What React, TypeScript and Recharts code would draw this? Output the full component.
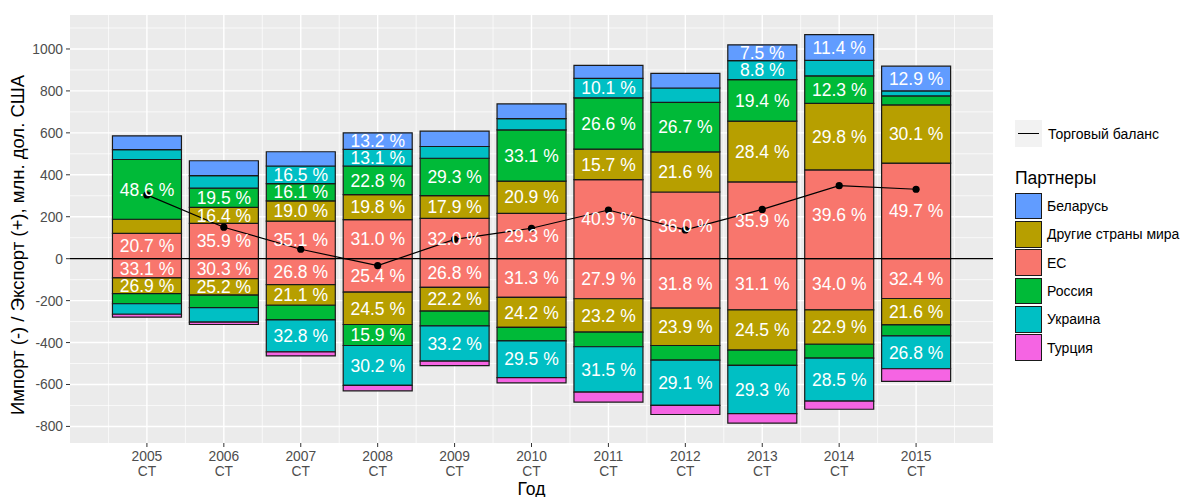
import React from "react";
import {
  ComposedChart,
  Bar,
  Line,
  XAxis,
  YAxis,
  CartesianGrid,
  ReferenceLine,
  LabelList,
} from "recharts";

const FONT = '"Liberation Sans", Arial, Helvetica, sans-serif';

// years (x axis), every one labelled "<year> / CT"
const years = [2005, 2006, 2007, 2008, 2009, 2010, 2011, 2012, 2013, 2014, 2015];

// exports (+), mln USD
const euExp = [121, 168, 179, 186, 192, 216, 377, 318, 366, 423, 456];
const otherExp = [67, 77, 97, 119, 109, 154, 145, 191, 290, 318, 277];
const russiaExp = [285, 91, 82, 137, 178, 244, 245, 236, 198, 131, 43];
const ukraineExp = [47, 60, 84, 79, 56, 54, 93, 69, 90, 74, 24];
const belarusExp = [66, 71, 68, 79, 73, 70, 62, 70, 76, 122, 118];

// imports (-), mln USD
const euImp = [-92, -95, -124, -160, -137, -185, -191, -236, -244, -244, -190];
const otherImp = [-75, -79, -98, -154, -113, -143, -159, -178, -192, -164, -126];
const russiaImp = [-48, -59, -70, -100, -70, -64, -70, -70, -73, -66, -52];
const ukraineImp = [-50, -70, -152, -190, -169, -175, -216, -216, -230, -205, -157];
const turkeyImp = [-14, -11, -20, -26, -21, -25, -48, -43, -45, -39, -60];

// trade balance
const balance = [304, 150, 45, -33, 92, 145, 232, 137, 235, 348, 331];

// shares printed inside the segments (% of the year's exports / imports)
const euExpShare = [20.7, 35.9, 35.1, 31.0, 32.0, 29.3, 40.9, 36.0, 35.9, 39.6, 49.7];
const otherExpShare = [null, 16.4, 19.0, 19.8, 17.9, 20.9, 15.7, 21.6, 28.4, 29.8, 30.1];
const russiaExpShare = [48.6, 19.5, 16.1, 22.8, 29.3, 33.1, 26.6, 26.7, 19.4, 12.3, null];
const ukraineExpShare = [null, null, 16.5, 13.1, null, null, 10.1, null, 8.8, null, null];
const belarusExpShare = [null, null, null, 13.2, null, null, null, null, 7.5, 11.4, 12.9];
const euImpShare = [33.1, 30.3, 26.8, 25.4, 26.8, 31.3, 27.9, 31.8, 31.1, 34.0, 32.4];
const otherImpShare = [26.9, 25.2, 21.1, 24.5, 22.2, 24.2, 23.2, 23.9, 24.5, 22.9, 21.6];
const russiaImpShare = [null, null, null, 15.9, null, null, null, null, null, null, null];
const ukraineImpShare = [null, null, 32.8, 30.2, 33.2, 29.5, 31.5, 29.1, 29.3, 28.5, 26.8];
const turkeyImpShare = [null, null, null, null, null, null, null, null, null, null, null];

const yTicks = [-800, -600, -400, -200, 0, 200, 400, 600, 800, 1000];
const yMinor = [-700, -500, -300, -100, 100, 300, 500, 700, 900, 1100];
const xMinor = [2004.5, 2005.5, 2006.5, 2007.5, 2008.5, 2009.5, 2010.5, 2011.5, 2012.5, 2013.5, 2014.5, 2015.5];

const COLORS = {
  belarus: "#619CFF",
  other: "#B79F00",
  eu: "#F8766D",
  russia: "#00BA38",
  ukraine: "#00BFC4",
  turkey: "#F564E3",
};

const partners = [
  { name: "Беларусь", color: COLORS.belarus },
  { name: "Другие страны мира", color: COLORS.other },
  { name: "ЕС", color: COLORS.eu },
  { name: "Россия", color: COLORS.russia },
  { name: "Украина", color: COLORS.ukraine },
  { name: "Турция", color: COLORS.turkey },
];

// stacking order: first one sits next to zero
const series = [
  { key: "euExp", color: COLORS.eu, values: euExp, shares: euExpShare },
  { key: "euImp", color: COLORS.eu, values: euImp, shares: euImpShare },
  { key: "otherExp", color: COLORS.other, values: otherExp, shares: otherExpShare },
  { key: "otherImp", color: COLORS.other, values: otherImp, shares: otherImpShare },
  { key: "russiaExp", color: COLORS.russia, values: russiaExp, shares: russiaExpShare },
  { key: "russiaImp", color: COLORS.russia, values: russiaImp, shares: russiaImpShare },
  { key: "ukraineExp", color: COLORS.ukraine, values: ukraineExp, shares: ukraineExpShare },
  { key: "ukraineImp", color: COLORS.ukraine, values: ukraineImp, shares: ukraineImpShare },
  { key: "belarusExp", color: COLORS.belarus, values: belarusExp, shares: belarusExpShare },
  { key: "turkeyImp", color: COLORS.turkey, values: turkeyImp, shares: turkeyImpShare },
];

const data = years.map((year, i) => {
  const row: Record<string, any> = { year, balance: balance[i] };
  series.forEach((s) => {
    row[s.key] = s.values[i];
    const share = s.shares[i];
    row[s.key + "Lbl"] = share == null ? null : `${share.toFixed(1)} %`;
  });
  return row;
});

const YearTick = ({ x, y, payload }: any) => (
  <text x={x} y={y} textAnchor="middle" fill="#4D4D4D" fontSize={13.8} fontFamily={FONT}>
    <tspan x={x} dy={12}>{payload.value}</tspan>
    <tspan x={x} dy={14.5}>CT</tspan>
  </text>
);

const ValueTick = ({ x, y, payload }: any) => (
  <text x={x} y={y} dy={5} textAnchor="end" fill="#4D4D4D" fontSize={13.8} fontFamily={FONT}>
    {payload.value}
  </text>
);

function Legend() {
  return (
    <div style={{ position: "absolute", left: 1015, top: 120, fontFamily: FONT, color: "#000" }}>
      <div style={{ display: "flex", alignItems: "center", height: 27 }}>
        <div style={{ width: 27, height: 27, background: "#F2F2F2", position: "relative" }}>
          <div style={{ position: "absolute", left: 3, right: 3, top: 13, height: 1.4, background: "#000" }} />
        </div>
        <span style={{ marginLeft: 6, fontSize: 14 }}>Торговый баланс</span>
      </div>
      <div style={{ fontSize: 17.5, marginTop: 21, lineHeight: "20px" }}>Партнеры</div>
      <div style={{ marginTop: 4 }}>
        {partners.map((p) => (
          <div key={p.name} style={{ display: "flex", alignItems: "center", height: 28.3 }}>
            <div
              style={{
                width: 25,
                height: 24.5,
                background: p.color,
                border: "1px solid #1a1a1a",
              }}
            />
            <span style={{ marginLeft: 5, fontSize: 14 }}>{p.name}</span>
          </div>
        ))}
      </div>
    </div>
  );
}

export default function App() {
  return (
    <div style={{ position: "absolute", left: 0, top: 0, width: 1184, height: 497, background: "#fff" }}>
      <ComposedChart
        width={1184}
        height={497}
        data={data}
        stackOffset="sign"
        margin={{ top: 15, right: 191, bottom: 0, left: 0 }}
      >
        <CartesianGrid
          fill="#EBEBEB"
          stroke="#FFFFFF"
          strokeWidth={0.7}
          horizontalValues={yMinor}
          verticalValues={xMinor}
        />
        <CartesianGrid stroke="#FFFFFF" strokeWidth={1.4} horizontalValues={yTicks} verticalValues={years} />
        <XAxis
          dataKey="year"
          type="number"
          domain={[2004, 2016]}
          ticks={years}
          height={54}
          axisLine={false}
          tickSize={4}
          tickLine={{ stroke: "#333333" }}
          tick={<YearTick />}
          interval={0}
          label={{
            content: () => (
              <text x={531.5} y={495} textAnchor="middle" fontSize={17.5} fontFamily={FONT} fill="#000">
                Год
              </text>
            ),
          }}
        />
        <YAxis
          type="number"
          domain={[-879, 1162]}
          allowDataOverflow
          ticks={yTicks}
          width={70}
          axisLine={false}
          tickSize={4}
          tickMargin={3}
          tickLine={{ stroke: "#333333" }}
          tick={<ValueTick />}
          interval={0}
          label={{
            content: () => (
              <text
                x={17}
                y={245}
                transform="rotate(-90, 17, 245)"
                textAnchor="middle"
                dominantBaseline="central"
                fontSize={18.5}
                fontFamily={FONT}
                fill="#000"
              >
                Импорт (-) / Экспорт (+), млн. дол. США
              </text>
            ),
          }}
        />
        {series.map((s) => (
          <Bar
            key={s.key}
            dataKey={s.key}
            stackId="trade"
            fill={s.color}
            stroke="#1a1a1a"
            strokeWidth={1.2}
            barSize={69}
            isAnimationActive={false}
          >
            <LabelList
              dataKey={s.key + "Lbl"}
              position="center"
              fill="#FFFFFF"
              stroke="none"
              fontSize={17.5}
              fontFamily={FONT}
            />
          </Bar>
        ))}
        <ReferenceLine y={0} stroke="#000" strokeWidth={1.3} />
        <Line
          dataKey="balance"
          type="linear"
          stroke="#000"
          strokeWidth={1.2}
          dot={{ r: 3.6, fill: "#000", stroke: "#000", strokeWidth: 0 }}
          activeDot={false}
          isAnimationActive={false}
        />
      </ComposedChart>
      <Legend />
    </div>
  );
}
